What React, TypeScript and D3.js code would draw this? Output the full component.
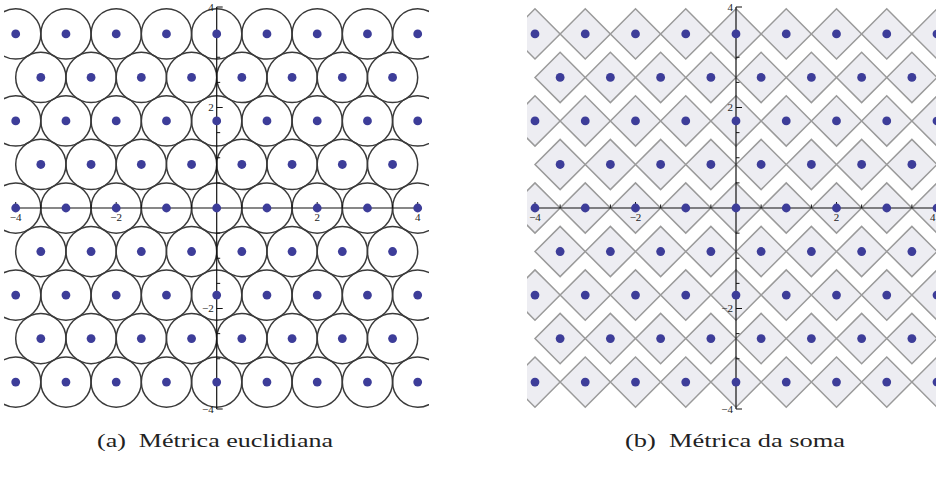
import React from "react";
import * as d3 from "d3";

// lattice rows (y values) and the x positions of the points in even / odd rows
const rowY = [-3.464, -2.598, -1.732, -0.866, 0, 0.866, 1.732, 2.598, 3.464];
const evenRowX = [-4, -3, -2, -1, 0, 1, 2, 3, 4];
const oddRowX = [-3.5, -2.5, -1.5, -0.5, 0.5, 1.5, 2.5, 3.5];
const ballRadius = 0.5;

const majorTicks = [-4, -2, 2, 4];
const majorLabels = ["−4", "−2", "2", "4"];
const minorTicks = [-3.5, -3, -2.5, -1.5, -1, -0.5, 0.5, 1, 1.5, 2.5, 3, 3.5];

const captions = ["(a)  Métrica euclidiana", "(b)  Métrica da soma"];

const W = 936;
const H = 477;

type P = { x: number; y: number };
const points: P[] = [];
rowY.forEach((y, i) => {
  const xs = i % 2 === 0 ? evenRowX : oddRowX;
  xs.forEach((x) => points.push({ x, y }));
});

const DOT = "#3d3d99";

function Panel({ cx, clipX0, clipX1, kind, id }: { cx: number; clipX0: number; clipX1: number; kind: "circle" | "diamond"; id: string }) {
  const half = 201;
  const xs = d3.scaleLinear().domain([-4, 4]).range([cx - half, cx + half]);
  const ys = d3.scaleLinear().domain([-4, 4]).range([409, 7]);
  const x0 = xs(0);
  const y0 = ys(0);
  const rPx = xs(ballRadius) - xs(0);
  const tickFont = "'Liberation Serif', 'Times New Roman', serif";
  return (
    <g>
      <defs>
        <clipPath id={id}>
          <rect x={clipX0} y={0} width={clipX1 - clipX0} height={425} />
        </clipPath>
      </defs>
      <g clipPath={`url(#${id})`}>
        {kind === "circle"
          ? points.map((p, i) => (
              <circle key={i} cx={xs(p.x)} cy={ys(p.y)} r={rPx} fill="none" stroke="#3a3a3a" strokeWidth={1.5} />
            ))
          : points.map((p, i) => {
              const px = xs(p.x);
              const py = ys(p.y);
              const d = `M${px - rPx},${py}L${px},${py - rPx}L${px + rPx},${py}L${px},${py + rPx}Z`;
              return <path key={i} d={d} fill="#ededf2" stroke="#9a9a9a" strokeWidth={1.5} />;
            })}
        {/* axes */}
        <line x1={xs(-4)} x2={xs(4)} y1={y0} y2={y0} stroke="#111" strokeWidth={1.2} />
        <line x1={x0} x2={x0} y1={ys(4)} y2={ys(-4)} stroke="#111" strokeWidth={1.2} />
        {majorTicks.map((t) => (
          <g key={"mx" + t}>
            <line x1={xs(t)} x2={xs(t)} y1={y0} y2={y0 - 6} stroke="#111" strokeWidth={1} />
            <line x1={x0} x2={x0 + 6} y1={ys(t)} y2={ys(t)} stroke="#111" strokeWidth={1} />
          </g>
        ))}
        {minorTicks.map((t) => (
          <g key={"mn" + t}>
            <line x1={xs(t)} x2={xs(t)} y1={y0} y2={y0 - 3.5} stroke="#111" strokeWidth={1} />
            <line x1={x0} x2={x0 + 3.5} y1={ys(t)} y2={ys(t)} stroke="#111" strokeWidth={1} />
          </g>
        ))}
        {points.map((p, i) => (
          <circle key={"d" + i} cx={xs(p.x)} cy={ys(p.y)} r={4.4} fill={DOT} />
        ))}
      </g>
      {majorTicks.map((t, i) => {
        const lx = xs(t);
        const overflow = lx + 4 > W;
        return (
          <g key={"lb" + t} fontFamily={tickFont} fontSize={11} fill="#222">
            <text x={overflow ? W - 0.5 : lx} y={y0 + 13} textAnchor={overflow ? "end" : "middle"}>{majorLabels[i]}</text>
            <text x={x0 - 3} y={ys(t)} dy="0.35em" textAnchor="end">{majorLabels[i]}</text>
          </g>
        );
      })}
    </g>
  );
}

export default function App() {
  const capFont = "'Liberation Serif', 'Times New Roman', serif";
  return (
    <svg width={W} height={H} style={{ position: "absolute", left: 0, top: 0, background: "#fff" }}>
      <rect x={0} y={0} width={W} height={H} fill="#fff" />
      <Panel cx={216.7} clipX0={4} clipX1={429} kind="circle" id="clipA" />
      <Panel cx={736} clipX0={527} clipX1={936} kind="diamond" id="clipB" />
      <text x={97} y={447} fontFamily={capFont} fontSize={19} fill="#222" textLength={236} lengthAdjust="spacingAndGlyphs" style={{ whiteSpace: "pre" }}>
        {captions[0]}
      </text>
      <text x={625} y={447} fontFamily={capFont} fontSize={19} fill="#222" textLength={220} lengthAdjust="spacingAndGlyphs" style={{ whiteSpace: "pre" }}>
        {captions[1]}
      </text>
    </svg>
  );
}
